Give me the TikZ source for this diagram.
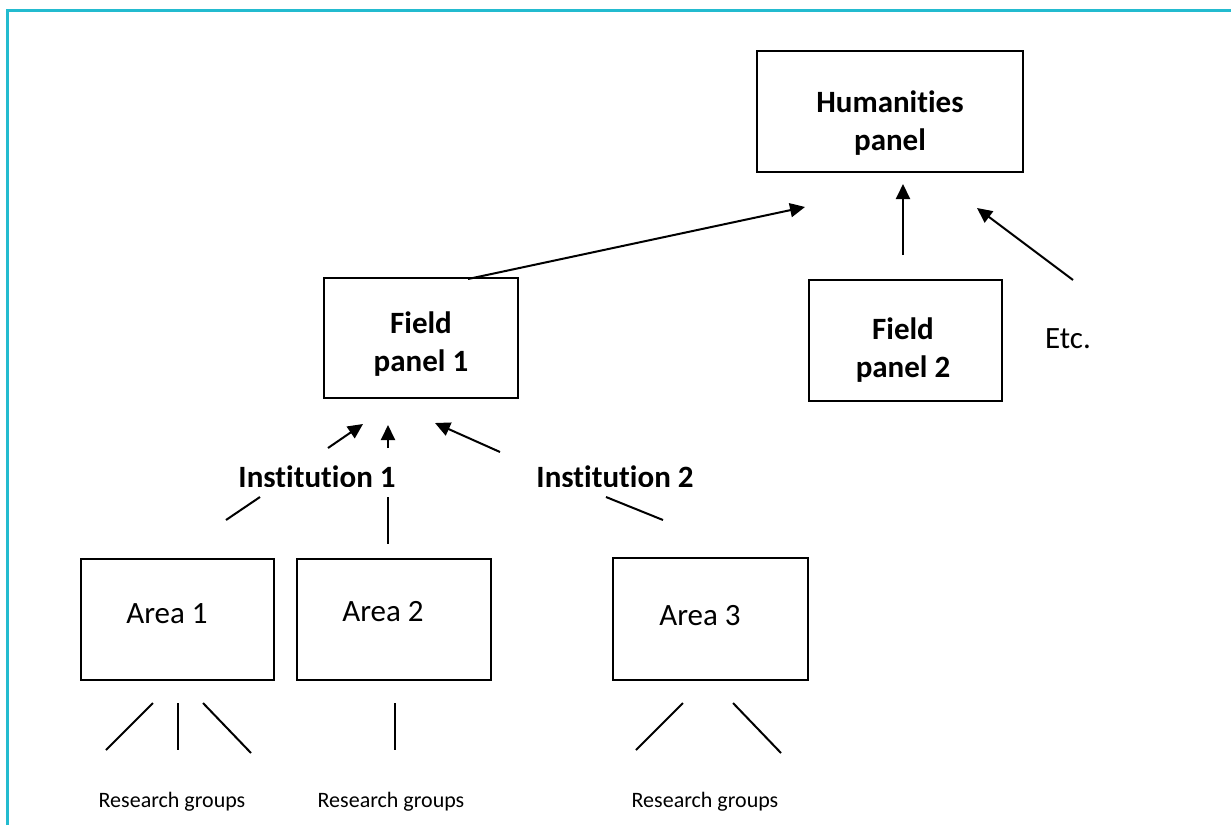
\documentclass[tikz,border=0pt]{standalone}
\usepackage{fontspec}
\setmainfont{Carlito}[Ligatures=NoCommon]
\usetikzlibrary{arrows.meta}
\definecolor{frame}{RGB}{35,187,207}
\tikzset{
  panelbox/.style={draw, line width=1.6pt, inner sep=0pt},
  big/.style={font=\fontsize{31}{38}\selectfont},
  bigbold/.style={font=\fontsize{31}{38}\selectfont\bfseries, align=center, inner sep=0pt},
  small/.style={font=\fontsize{22}{26}\selectfont},
  arr/.style={line width=2pt, -{Triangle[length=15pt,width=14pt]}},
  ln/.style={line width=2pt}
}
\begin{document}
\begin{tikzpicture}[x=1pt,y=-1pt]
\useasboundingbox (0,0) rectangle (1231,825);
% frame
\draw[frame, line width=3pt] (7.5,825) -- (7.5,10) -- (1231,10);

% boxes
\node[panelbox, minimum width=266pt, minimum height=121pt] (hum) at (890,111.5) {};
\node[panelbox, minimum width=194pt, minimum height=120pt] (fp1) at (421,338) {};
\node[panelbox, minimum width=193pt, minimum height=121pt] (fp2) at (905.5,340.5) {};
\node[panelbox, minimum width=193pt, minimum height=121pt] (ar1) at (177.5,619.5) {};
\node[panelbox, minimum width=194pt, minimum height=121pt] (ar2) at (394,619.5) {};
\node[panelbox, minimum width=195pt, minimum height=122pt] (ar3) at (710.5,619) {};

% box texts
\node[bigbold] (humt) at (890,123) {Humanities\\panel};
\node[bigbold] (fp1t) at (421,344) {Field\\panel 1};
\node[bigbold] (fp2t) at (903,350) {Field\\panel 2};
\node[big, anchor=base, inner sep=0pt] (ar1t) at (167,623) {Area 1};
\node[big, anchor=base, inner sep=0pt] (ar2t) at (383,621) {Area 2};
\node[big, anchor=base, inner sep=0pt] (ar3t) at (700,625) {Area 3};
\node[big, anchor=base, inner sep=0pt] (etc) at (1068,348) {Etc.};

% institution labels (bottom edge cut as in the original)
\begin{scope}
\clip (0,0) rectangle (1231,486.5);
\node[bigbold, anchor=base] (inst1) at (317,487.5) {Institution 1};
\node[bigbold, anchor=base] (inst2) at (615,487.5) {Institution 2};
\end{scope}

% research group labels
\node[small, anchor=base, inner sep=0pt] (rg1) at (172,807) {Research groups};
\node[small, anchor=base, inner sep=0pt] (rg2) at (391,807) {Research groups};
\node[small, anchor=base, inner sep=0pt] (rg3) at (705,807) {Research groups};

% arrow end coordinates
\coordinate (a1s) at (468,279);  \coordinate (a1e) at (805,207);
\coordinate (a2s) at (903,255);  \coordinate (a2e) at (903,184);
\coordinate (a3s) at (1073,280); \coordinate (a3e) at (977,208);
\coordinate (b1s) at (328,448);  \coordinate (b1e) at (363,424);
\coordinate (b2s) at (388,448);  \coordinate (b2e) at (388,425);
\coordinate (b3s) at (500,452);  \coordinate (b3e) at (435,423);

\draw[arr] (a1s) -- (a1e);
\draw[arr] (a2s) -- (a2e);
\draw[arr] (a3s) -- (a3e);
\draw[arr] (b1s) -- (b1e);
\draw[arr] (b2s) -- (b2e);
\draw[arr] (b3s) -- (b3e);

% institution to area lines
\coordinate (c1s) at (260,497); \coordinate (c1e) at (226,520);
\coordinate (c2s) at (388,497); \coordinate (c2e) at (388,544);
\coordinate (c3s) at (606,497); \coordinate (c3e) at (663,520);
\draw[ln] (c1s) -- (c1e);
\draw[ln] (c2s) -- (c2e);
\draw[ln] (c3s) -- (c3e);

% research group lines
\coordinate (d1s) at (153,703); \coordinate (d1e) at (106,750);
\coordinate (d2s) at (178,703); \coordinate (d2e) at (178,750);
\coordinate (d3s) at (203,703); \coordinate (d3e) at (251,753);
\coordinate (d4s) at (395,703); \coordinate (d4e) at (395,750);
\coordinate (d5s) at (683,703); \coordinate (d5e) at (636,750);
\coordinate (d6s) at (733,703); \coordinate (d6e) at (781,753);
\draw[ln] (d1s) -- (d1e);
\draw[ln] (d2s) -- (d2e);
\draw[ln] (d3s) -- (d3e);
\draw[ln] (d4s) -- (d4e);
\draw[ln] (d5s) -- (d5e);
\draw[ln] (d6s) -- (d6e);
\end{tikzpicture}
\end{document}
